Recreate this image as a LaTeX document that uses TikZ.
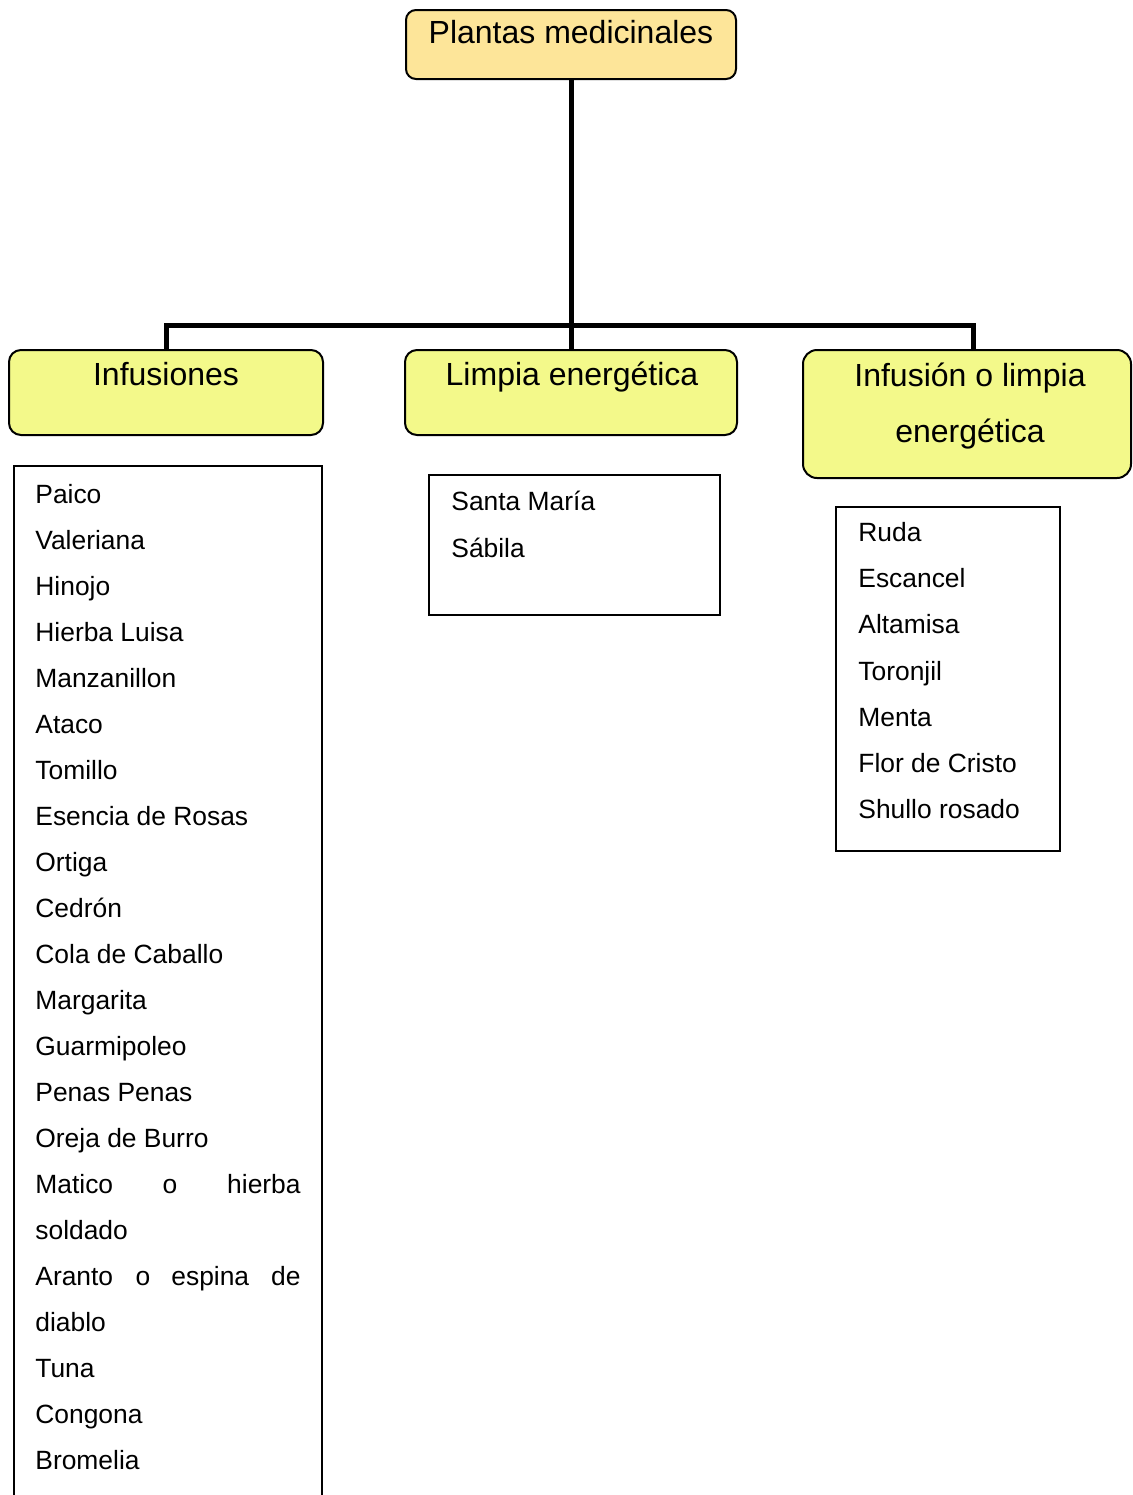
\documentclass[tikz,border=0pt]{standalone}
\usepackage{fontspec}
\setmainfont{Liberation Sans}
\definecolor{topfill}{RGB}{253,229,153}
\definecolor{hdrfill}{RGB}{243,249,138}
\begin{document}
\begin{tikzpicture}[x=0.5pt,y=-0.5pt,
  hdrbox/.style={draw=black,line width=1pt,fill=hdrfill,rounded corners=6pt,inner sep=0pt,outer sep=0pt},
  topbox/.style={draw=black,line width=1pt,fill=topfill,rounded corners=5pt,inner sep=0pt,outer sep=0pt},
  listbox/.style={draw=black,line width=1pt,inner sep=0pt,outer sep=0pt},
  hdrtext/.style={inner sep=0pt,anchor=base,font=\fontsize{16}{19}\selectfont},
  item/.style={inner sep=0pt,anchor=base west,font=\fontsize{13.2}{16}\selectfont},
  itemr/.style={inner sep=0pt,anchor=base east,font=\fontsize{13.2}{16}\selectfont},
  itemc/.style={inner sep=0pt,anchor=base,font=\fontsize{13.2}{16}\selectfont},
  conn/.style={draw=black,line width=2.5pt}]
\clip (0,0) rectangle (1132,1495);
\fill[white] (0,0) rectangle (1132,1495);
% header boxes
\node[topbox,minimum width=165pt,minimum height=34.5pt] (top) at (571,44.5) {};
\node[hdrbox,minimum width=157pt,minimum height=42.5pt] (inf) at (166,392.5) {};
\node[hdrbox,minimum width=166pt,minimum height=42.5pt] (lim) at (571,392.5) {};
\node[hdrbox,rounded corners=7pt,minimum width=164pt,minimum height=64pt] (ie) at (967,414) {};
% connectors
\coordinate (bus) at (571,325);
\draw[conn] (top.south) -- (bus);
\draw[conn] (bus) -- (lim.north);
\draw[conn] (inf.north) |- (bus) -| ([xshift=3pt]ie.north);
% header texts
\node[hdrtext] (ttop) at (571,43) {Plantas medicinales};
\node[hdrtext] (tinf) at (166,385) {Infusiones};
\node[hdrtext] (tlim) at (572,385) {Limpia energética};
\node[hdrtext] (tie1) at (970,386) {Infusión o limpia};
\node[hdrtext] (tie2) at (970,442) {energética};
% list boxes
\node[listbox,minimum width=154pt,minimum height=522pt] (inflist) at (168,988) {};
\node[listbox,minimum width=145.5pt,minimum height=70pt] (limlist) at (574.75,545) {};
\node[listbox,minimum width=112pt,minimum height=172pt] (ielist) at (948,679) {};
% Infusiones items
\foreach \t [count=\i from 0] in {Paico,Valeriana,Hinojo,Hierba Luisa,Manzanillon,Ataco,Tomillo,Esencia de Rosas,Ortiga,Cedrón,Cola de Caballo,Margarita,Guarmipoleo,Penas Penas,Oreja de Burro}
  \node[item] (a\i) at (35,{503+46*\i}) {\t};
\node[item] (m1) at (35,1193) {Matico};
\node[itemc] (m2) at (170,1193) {o};
\node[itemr] (m3) at (301,1193) {hierba};
\node[item] (m4) at (35,1239) {soldado};
\node[item] (r1) at (35,1285) {Aranto};
\node[itemc] (r2) at (143,1285) {o};
\node[item] (r3) at (171,1285) {espina};
\node[itemr] (r4) at (301,1285) {de};
\node[item] (r5) at (35,1331) {diablo};
\node[item] (b1) at (35,1377) {Tuna};
\node[item] (b2) at (35,1423) {Congona};
\node[item] (b3) at (35,1469) {Bromelia};
% Limpia items
\node[item] (s1) at (451,510) {Santa María};
\node[item] (s2) at (451,557) {Sábila};
% Infusion o limpia items
\foreach \t [count=\i from 0] in {Ruda,Escancel,Altamisa,Toronjil,Menta,Flor de Cristo,Shullo rosado}
  \node[item] (e\i) at (858,{541.5+46.2*\i}) {\t};
\end{tikzpicture}
\end{document}
